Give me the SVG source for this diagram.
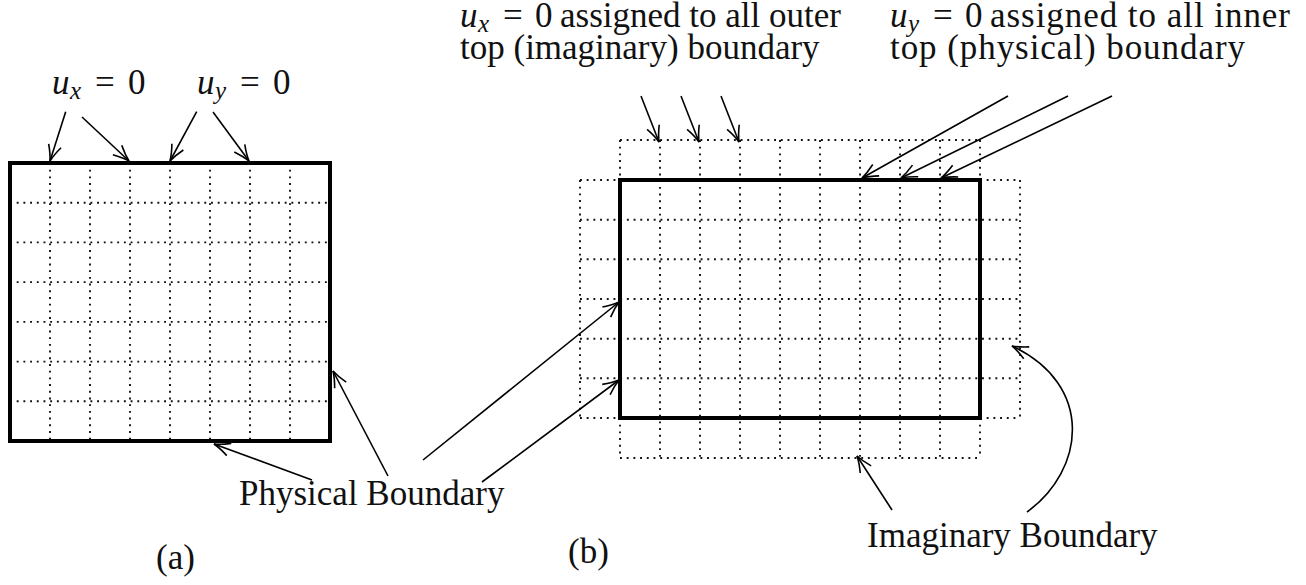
<svg xmlns="http://www.w3.org/2000/svg" width="1306" height="585" viewBox="0 0 1306 585">
  <style>
    .thick { fill: none; stroke: #000; stroke-width: 4; }
    .dot { fill: none; stroke: #111; stroke-width: 1.9; stroke-dasharray: 1.9 4.8; }
    .arr { fill: none; stroke: #000; stroke-width: 1.6; marker-end: url(#ah); }
    text { font-family: "Liberation Serif", "Times New Roman", serif; font-size: 35px; fill: #111; }
    .it { font-style: italic; }
    .sub { font-style: italic; font-size: 25px; }
  </style>
  <defs>
    <marker id="ah" viewBox="-18 -9 20 18" refX="0" refY="0" markerWidth="20" markerHeight="18" markerUnits="userSpaceOnUse" orient="auto">
      <path d="M-16,-6.5 Q-7,-1.8 0,0 Q-7,1.8 -16,6.5" fill="none" stroke="#000" stroke-width="1.6"/>
    </marker>
  </defs>

  <g id="grid-a">
    <path class="dot" d="M50,163V441 M90,163V441 M130,163V441 M170,163V441 M210,163V441 M250,163V441 M290,163V441"/>
    <path class="dot" d="M10,202.7H330 M10,242.4H330 M10,282.1H330 M10,321.9H330 M10,361.6H330 M10,401.3H330"/>
    <rect class="thick" x="10" y="163" width="320" height="278"/>
  </g>

  <g id="grid-b">
    <path class="dot" d="M660,140V458 M700,140V458 M740,140V458 M780,140V458 M820,140V458 M860,140V458 M900,140V458 M940,140V458"/>
    <path class="dot" d="M620,140V180 M620,418V458 M980,140V180 M980,418V458 M580,180V418 M1020,180V418"/>
    <path class="dot" d="M620,140H980 M620,458H980 M580,180H620 M980,180H1020 M580,418H620 M980,418H1020"/>
    <path class="dot" d="M580,219.7H1020 M580,259.3H1020 M580,299H1020 M580,338.7H1020 M580,378.3H1020"/>
    <rect class="thick" x="620" y="180" width="360" height="238"/>
  </g>

  <g id="connectors">
    <path class="arr" d="M65.7,111.7 L50,161"/>
    <path class="arr" d="M82,117 L129,161"/>
    <path class="arr" d="M196.7,111.7 L170,161"/>
    <path class="arr" d="M213,112 L249,161"/>
    <path class="arr" d="M312,480 L214,444"/>
    <path class="arr" d="M388,476 L333,371"/>
    <path class="arr" d="M423,460 L619,302"/>
    <path class="arr" d="M482,482 L619,380"/>
    <path class="arr" d="M641,96 L659,142"/>
    <path class="arr" d="M681,96 L699,142"/>
    <path class="arr" d="M721,96 L739,142"/>
    <path class="arr" d="M1008,96 L862,178"/>
    <path class="arr" d="M1068,96 L901,178"/>
    <path class="arr" d="M1112,96 L941,178"/>
    <path class="arr" d="M892,510 L857,456"/>
    <path class="arr" d="M1027,512 C1085,470 1095,385 1012,346"/>
  </g>

  <g id="label-ux">
    <text y="94"><tspan class="it" x="52">u</tspan><tspan class="sub" x="70" dy="5">x</tspan><tspan x="95" dy="-5">=</tspan><tspan x="128">0</tspan></text>
  </g>
  <g id="label-uy">
    <text y="94"><tspan class="it" x="197">u</tspan><tspan class="sub" x="215" dy="5">y</tspan><tspan x="240" dy="-5">=</tspan><tspan x="273">0</tspan></text>
  </g>
  <g id="label-outer">
    <text y="27"><tspan class="it" x="460">u</tspan><tspan class="sub" x="478" dy="5">x</tspan><tspan x="503" dy="-5">=</tspan><tspan x="535">0</tspan><tspan x="560">assigned to all outer</tspan></text>
    <text x="460" y="59">top (imaginary) boundary</text>
  </g>
  <g id="label-inner">
    <text y="27"><tspan class="it" x="890">u</tspan><tspan class="sub" x="908" dy="5">y</tspan><tspan x="933" dy="-5">=</tspan><tspan x="965">0</tspan></text>
    <text x="990" y="27" textLength="300" lengthAdjust="spacing">assigned to all inner</text>
    <text x="890" y="59" textLength="355" lengthAdjust="spacing">top (physical) boundary</text>
  </g>
  <g id="label-physical">
    <text x="239" y="505">Physical Boundary</text>
  </g>
  <g id="label-imaginary">
    <text x="867" y="547">Imaginary Boundary</text>
  </g>
  <g id="caption-a">
    <text x="156" y="569">(a)</text>
  </g>
  <g id="caption-b">
    <text x="568" y="563">(b)</text>
  </g>
</svg>
